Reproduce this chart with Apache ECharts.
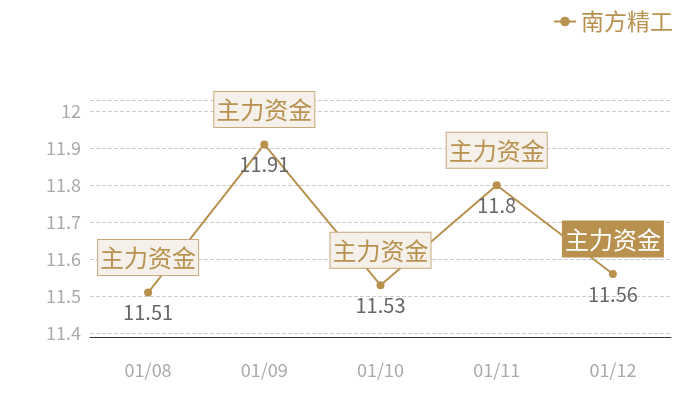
<!DOCTYPE html>
<html><head><meta charset="utf-8">
<script src="https://cdn.jsdelivr.net/npm/echarts@6/dist/echarts.min.js"></script>
<style>html,body{margin:0;padding:0;background:#fff}#c{width:700px;height:400px}</style>
</head><body><div id="c"></div>
<script>
const categories = ['01/08','01/09','01/10','01/11','01/12'];
const prices = [11.51, 11.91, 11.53, 11.8, 11.56];
const seriesName = '南方精工';
const markText = '主力资金';
const highlighted = [false, false, false, false, true];

const gold = '#b8914f';
const chart = echarts.init(document.getElementById('c'));
const font = '"Noto Sans CJK SC", "Noto Sans", sans-serif';
chart.setOption({
  animation: false,
  textStyle: { fontFamily: font },
  legend: {
    data: [seriesName], right: 22, top: 5,
    itemWidth: 22, itemHeight: 12, itemGap: 6,
    textStyle: { color: gold, fontSize: 23, fontFamily: font }
  },
  grid: { left: 90, right: 29, top: 100, bottom: 63 },
  xAxis: {
    type: 'category', data: categories,
    axisLine: { lineStyle: { color: '#333', width: 1 } },
    axisTick: { show: false },
    axisLabel: { color: '#aaa', fontSize: 18, margin: 24, fontFamily: font }
  },
  yAxis: {
    type: 'value',
    min: v => +(v.min - 0.12).toFixed(2),
    max: v => +(v.max + 0.12).toFixed(2),
    axisLine: { show: false }, axisTick: { show: false },
    axisLabel: { color: '#aaa', fontSize: 18, margin: 9, showMinLabel: false, showMaxLabel: false, fontFamily: font },
    splitLine: { lineStyle: { type: 'dashed', color: '#ccc' } }
  },
  series: [{
    name: seriesName, type: 'line', data: prices,
    symbol: 'circle', symbolSize: 8,
    lineStyle: { color: gold, width: 2 },
    itemStyle: { color: gold },
    label: { show: true, position: 'bottom', distance: 6, color: '#666', fontSize: 20, fontFamily: font },
    markPoint: {
      symbol: 'circle', symbolSize: 1,
      itemStyle: { color: 'rgba(0,0,0,0)' },
      data: categories.map((c, i) => ({
        coord: [c, prices[i]],
        label: {
          show: true, position: 'top', distance: 17,
          formatter: markText,
          fontSize: 24, lineHeight: 28, fontFamily: font,
          color: highlighted[i] ? '#fff' : gold,
          backgroundColor: highlighted[i] ? gold : '#f5f0ea',
          borderColor: highlighted[i] ? gold : '#c9a77a',
          borderWidth: 1,
          padding: [4, 2, 3, 2]
        }
      }))
    }
  }]
});
</script></body></html>
